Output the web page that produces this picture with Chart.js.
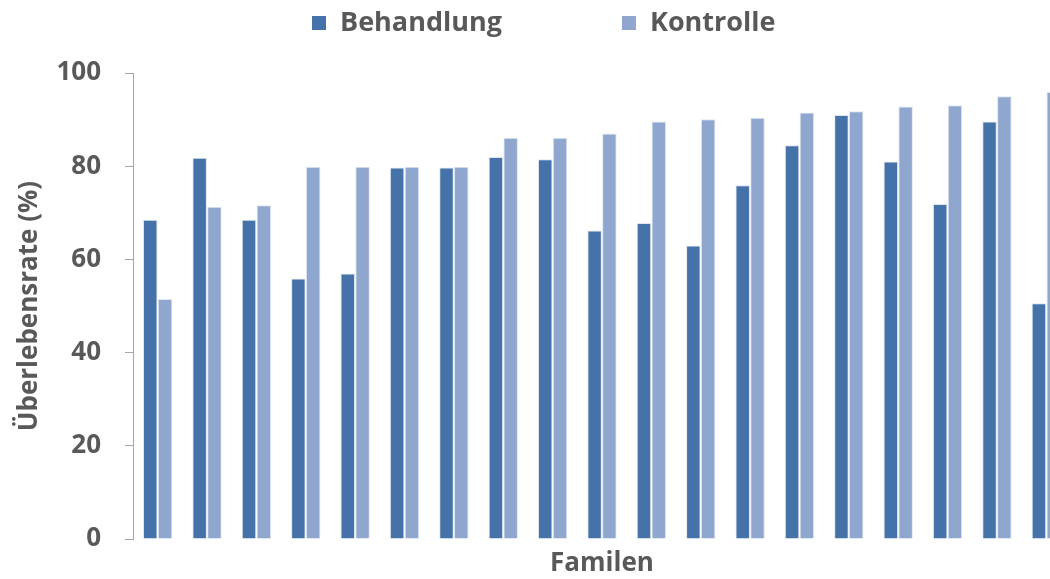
<!DOCTYPE html>
<html lang="de">
<head>
  <meta charset="UTF-8">
  <title>Überlebensrate nach Familien</title>
  <script src="https://cdn.jsdelivr.net/npm/chart.js"></script>
  <style>
    html, body { margin: 0; padding: 0; background: #fff; overflow: hidden; }
    .wrap { width: 1050px; height: 579px; overflow: hidden; }
  </style>
</head>
<body>
  <div class="wrap">
    <canvas id="ueberleben" width="1080" height="579"></canvas>
  </div>

  <script>
    // Familien (ohne Beschriftung auf der Achse)
    const familien = ['1', '2', '3', '4', '5', '6', '7', '8', '9', '10',
                      '11', '12', '13', '14', '15', '16', '17', '18', '19'];

    // Überlebensrate in %
    const behandlung = [68.5, 81.8, 68.5, 55.9, 57.0, 79.7, 79.7, 82.0, 81.5, 66.2,
                        67.8, 63.0, 75.9, 84.5, 91.0, 81.0, 71.9, 89.6, 50.6];
    const kontrolle = [51.5, 71.3, 71.6, 79.9, 79.9, 79.9, 79.9, 86.1, 86.1, 87.0,
                       89.6, 90.1, 90.4, 91.5, 91.8, 92.8, 93.1, 95.0, 95.9];

    const yTicks = [0, 20, 40, 60, 80, 100];

    const grau = '#595959';
    const schrift = { family: '"Open Sans", sans-serif', weight: 'bold', size: 26 };

    // Legende oben, zwei Einträge nebeneinander
    const legendePlugin = {
      id: 'legendeOben',
      afterDraw(chart) {
        const ctx = chart.ctx;
        ctx.save();
        ctx.font = 'bold 27px "Open Sans", sans-serif';
        ctx.textBaseline = 'middle';
        ctx.textAlign = 'left';
        let x = 312;
        const y = 23;
        chart.data.datasets.forEach(ds => {
          ctx.fillStyle = ds.backgroundColor;
          ctx.fillRect(x, y - 7, 14, 14);
          ctx.fillStyle = grau;
          ctx.fillText(ds.label, x + 28, y);
          x += 28 + ctx.measureText(ds.label).width + 120;
        });
        ctx.restore();
      }
    };

    new Chart(document.getElementById('ueberleben'), {
      type: 'bar',
      data: {
        labels: familien,
        datasets: [
          {
            label: 'Behandlung',
            data: behandlung,
            backgroundColor: '#4472a9',
            borderColor: '#dfe6ef',
            borderWidth: 1,
            barPercentage: 0.98,
            categoryPercentage: 0.6
          },
          {
            label: 'Kontrolle',
            data: kontrolle,
            backgroundColor: '#8fa7cf',
            borderColor: '#dfe6ef',
            borderWidth: 1,
            barPercentage: 0.98,
            categoryPercentage: 0.6
          }
        ]
      },
      options: {
        responsive: false,
        animation: false,
        layout: { padding: { top: 73, right: 9, left: 0, bottom: 0 } },
        plugins: {
          legend: { display: false },
          tooltip: { enabled: false }
        },
        scales: {
          x: {
            ticks: { display: false },
            grid: { display: false, drawTicks: false },
            border: { display: false },
            title: {
              display: true,
              text: 'Familen',
              color: grau,
              font: schrift,
              padding: { top: 0, bottom: 0 }
            },
            afterFit(scale) { scale.height = 40; }
          },
          y: {
            min: 0,
            max: 100,
            afterBuildTicks(scale) { scale.ticks = yTicks.map(v => ({ value: v })); },
            ticks: { color: grau, font: schrift, padding: 24 },
            grid: { drawOnChartArea: false, drawTicks: true, tickLength: 8, color: '#a6a6a6' },
            border: { display: true, color: '#a6a6a6' },
            title: {
              display: true,
              text: 'Überlebensrate (%)',
              color: grau,
              font: schrift,
              padding: { top: 14, bottom: 0 }
            },
            afterFit(scale) { scale.width = 133; }
          }
        }
      },
      plugins: [legendePlugin]
    });
  </script>
</body>
</html>
